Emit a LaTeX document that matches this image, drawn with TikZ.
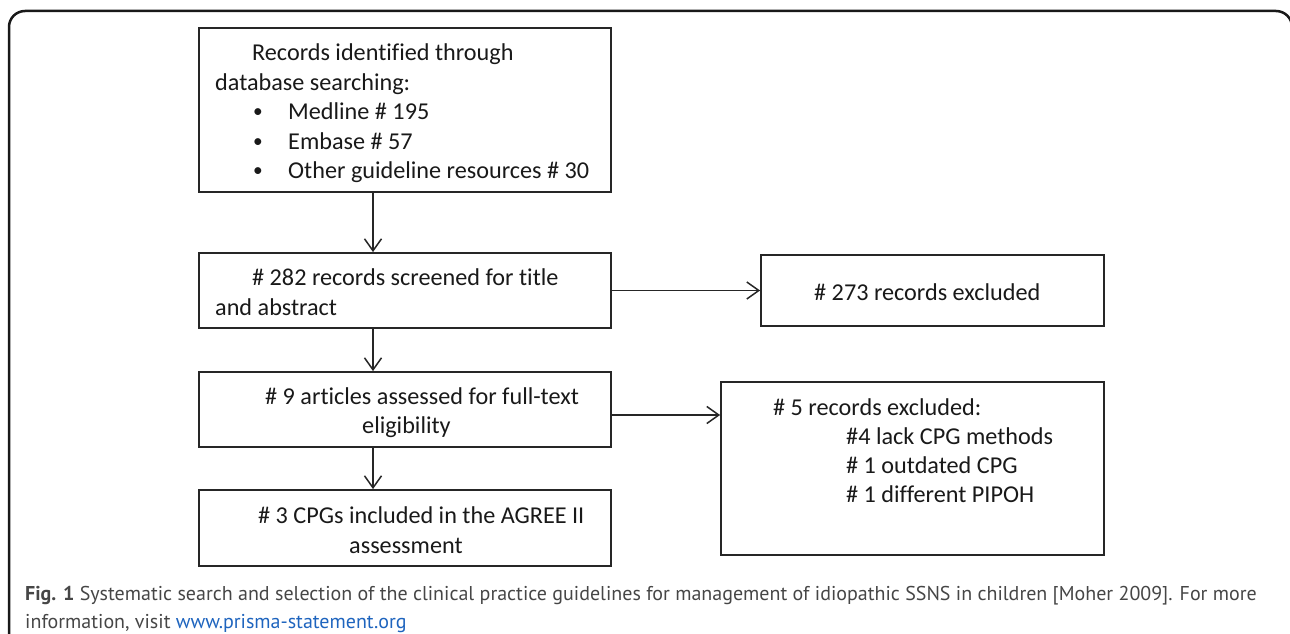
\documentclass[tikz,border=0pt]{standalone}
\usepackage{fontspec}
\setmainfont[Ligatures={NoCommon}]{Carlito}
\newfontfamily\capfont{PT Sans}
\usetikzlibrary{arrows.meta}
\definecolor{capgray}{RGB}{70,70,70}
\definecolor{linkblue}{RGB}{30,100,190}
\newcommand{\smbullet}{\raisebox{0.15ex}{\scalebox{0.8}{\textbullet}}}
\begin{document}
\begin{tikzpicture}[x=1pt,y=-1pt,
  box/.style={draw=black!85,line width=1.8pt,rectangle,inner sep=0pt},
  txt/.style={anchor=base west,inner sep=0pt,font=\fontsize{24.2}{28}\selectfont,text=black!90},
  captxt/.style={anchor=base west,inner sep=0pt,font=\capfont\fontsize{20}{24}\selectfont,text=capgray},
  arr/.style={draw=black!85,line width=1.5pt,-{Straight Barb[length=12pt,width=17pt,line width=1.5pt]}}]
\useasboundingbox (0,0) rectangle (1290,634);
% outer frame
\draw[line width=2.5pt,rounded corners=16pt,black!90] (9,660) -- (9,11) -- (1292,11) -- (1292,660);
% boxes
\node[box,minimum width=412pt,minimum height=164pt] (b1) at (405,110) {};
\node[box,minimum width=412pt,minimum height=75pt] (b2) at (405,290.5) {};
\node[box,minimum width=412pt,minimum height=75pt] (b3) at (405,409.5) {};
\node[box,minimum width=412pt,minimum height=76pt] (b4) at (405,528) {};
\node[box,minimum width=343pt,minimum height=71pt] (b5) at (932.5,290.5) {};
\node[box,minimum width=383pt,minimum height=173pt] (b6) at (912.5,468.5) {};
% texts
\node[txt] (t1a) at (252,60) {Records identified through};
\node[txt] (t1b) at (215,90) {database searching:};
\node[txt] (t1c) at (253,119.5) {\smbullet};
\node[txt] (t1d) at (288,119.5) {Medline \# 195};
\node[txt] (t1e) at (253,149) {\smbullet};
\node[txt] (t1f) at (288,149) {Embase \# 57};
\node[txt] (t1g) at (253,178.5) {\smbullet};
\node[txt] (t1h) at (288,178.5) {Other guideline resources \# 30};
\node[txt] (t2a) at (252,285) {\# 282 records screened for title};
\node[txt] (t2b) at (215,315) {and abstract};
\node[txt] (t3a) at (265,404) {\# 9 articles assessed for full-text};
\node[txt] (t3b) at (362,433) {eligibility};
\node[txt] (t4a) at (258,523) {\# 3 CPGs included in the AGREE II};
\node[txt] (t4b) at (349,553) {assessment};
\node[txt] (t5a) at (814,300) {\# 273 records excluded};
\node[txt] (t6a) at (773,415) {\# 5 records excluded:};
\node[txt] (t6b) at (846,444) {\#4 lack CPG methods};
\node[txt] (t6c) at (846,473) {\# 1 outdated CPG};
\node[txt] (t6d) at (846,502) {\# 1 different PIPOH};
% connectors
\coordinate (ax) at (373,0);
\coordinate (ay) at (0,415);
\draw[arr] (b1.south -| ax) -- (b2.north -| ax);
\draw[arr] (b2.south -| ax) -- (b3.north -| ax);
\draw[arr] (b3.south -| ax) -- (b4.north -| ax);
\draw[arr] (b2.east) -- (b5.west);
\draw[arr] (b3.east |- ay) -- (b6.west |- ay);
% caption
\node[captxt] (c1) at (25,600) {\textbf{Fig. 1} Systematic search and selection of the clinical practice guidelines for management of idiopathic SSNS in children [Moher 2009]. For more};
\node[captxt] (c2) at (25,628) {information, visit \textcolor{linkblue}{www.prisma-statement.org}};
\end{tikzpicture}
\end{document}
